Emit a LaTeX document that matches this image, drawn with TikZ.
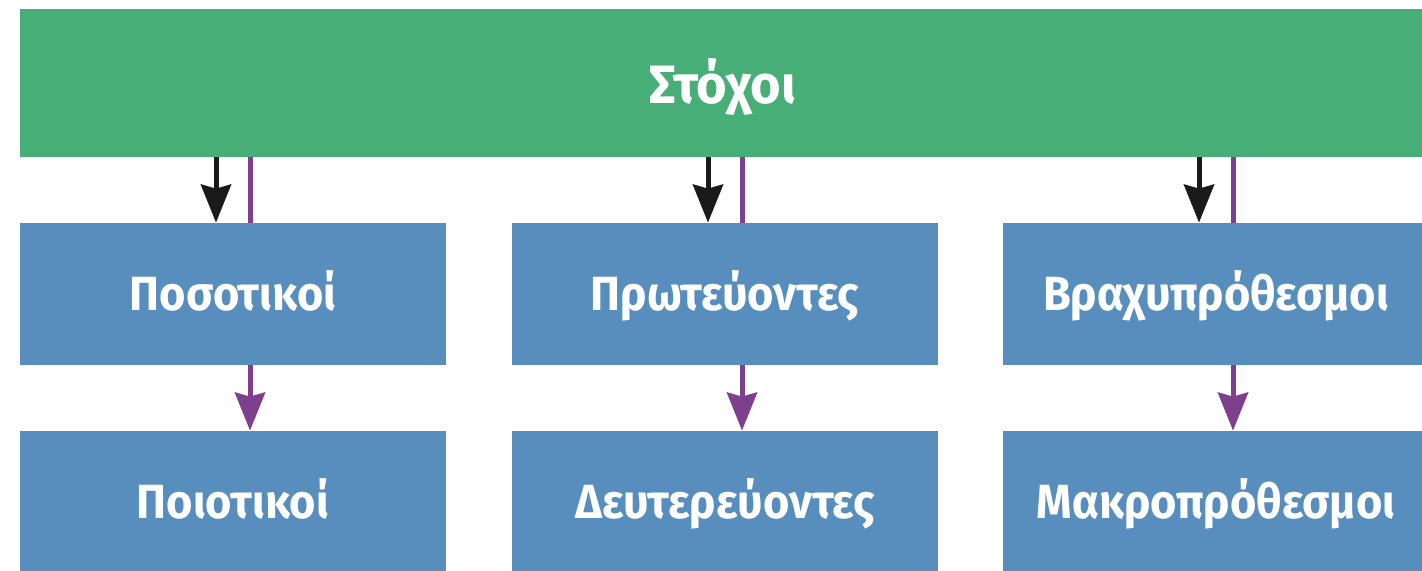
\documentclass[tikz,border=0pt]{standalone}
\usepackage{fontspec}
\setmainfont{Fira Sans}
\newfontfamily\lblfont[FakeStretch=0.94]{Fira Sans}
\newfontfamily\headfont[FakeStretch=0.97]{Fira Sans}
\usetikzlibrary{arrows.meta,calc}
\definecolor{gbar}{HTML}{48AE77}
\definecolor{bbox}{HTML}{578EBD}
\definecolor{purp}{HTML}{7E3F8E}
\definecolor{blk}{HTML}{1A1A1A}
\begin{document}
\begin{tikzpicture}[x=0.5pt,y=-0.5pt,
  goalbar/.style={fill=gbar, text=white, minimum width=703pt, minimum height=74pt,
    inner sep=0pt, text height=20pt, text depth=0pt,
    font=\headfont\bfseries\fontsize{27}{27}\selectfont},
  bluebox/.style={fill=bbox, text=white, minimum width=213pt, minimum height=71pt,
    inner sep=0pt, text height=16pt, text depth=0pt,
    font=\lblfont\bfseries\fontsize{24}{24}\selectfont},
  blkarrow/.style={draw=blk, line width=2.5pt, -{Stealth[length=19pt,width=15pt,inset=2pt]}},
  purpline/.style={draw=purp, line width=2.5pt},
  purparrow/.style={draw=purp, line width=2.5pt, -{Stealth[length=19pt,width=15pt,inset=2pt]}}
]
\useasboundingbox (0,0) rectangle (1422,570);
\node[goalbar] (goal) at (723,83) {Στόχοι};
\node[bluebox] (b11) at (233,294) {Ποσοτικοί};
\node[bluebox] (b12) at (725,294) {Πρωτεύοντες};
\node[bluebox] (b13) at (1216,294) {Βραχυπρόθεσμοι};
\node[bluebox] (b21) at (233,502) {Ποιοτικοί};
\node[bluebox] (b22) at (725,502) {Δευτερεύοντες};
\node[bluebox] (b23) at (1216,502) {Μακροπρόθεσμοι};
\foreach \t/\b in {b11/b21,b12/b22,b13/b23}{
  \draw[blkarrow] ([xshift=-8.5pt]\t.north |- goal.south) -- ([xshift=-8.5pt]\t.north);
  \draw[purpline] ([xshift=8.5pt]\t.north |- goal.south) -- ([xshift=8.5pt]\t.north);
  \draw[purparrow] ([xshift=8.5pt]\t.south) -- ([xshift=8.5pt]\b.north);
}
\end{tikzpicture}
\end{document}
